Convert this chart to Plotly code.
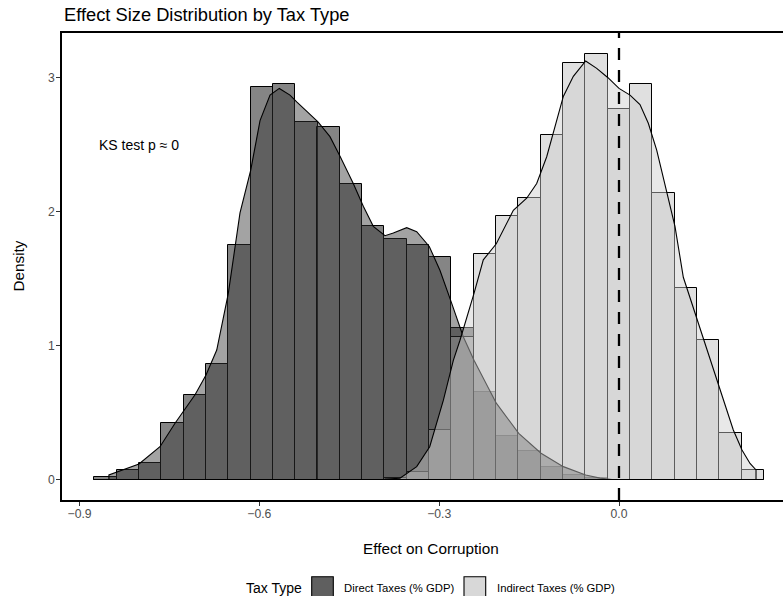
import plotly.graph_objects as go

# ---------------- data ----------------
bin_centers = [-0.8568, -0.8196, -0.7823, -0.7451, -0.7079, -0.6706, -0.6334, -0.5961,
               -0.5589, -0.5216, -0.4844, -0.4472, -0.4099, -0.3727, -0.3354, -0.2982,
               -0.2610, -0.2237, -0.1865, -0.1492, -0.1120, -0.0748, -0.0375, -0.0003,
               0.0370, 0.0742, 0.1114, 0.1487, 0.1859, 0.2232]
bin_width = 0.03724

direct_hist = [0.016, 0.071, 0.126, 0.42, 0.633, 0.865, 1.751, 2.93, 2.95, 2.672,
               2.634, 2.206, 1.895, 1.798, 1.751, 1.661, 1.133, 0.656, 0.327, 0.213,
               0.091, 0.03, 0.01, 0, 0, 0, 0, 0, 0, 0]
indirect_hist = [0, 0, 0, 0, 0, 0, 0, 0, 0, 0,
                 0, 0, 0, 0.01, 0.054, 0.37, 1.066, 1.681, 1.967, 2.10,
                 2.572, 3.112, 3.175, 2.764, 2.951, 2.137, 1.428, 1.044, 0.347, 0.071]

direct_kde_x = [-0.851, -0.8008, -0.7658, -0.7407, -0.7073, -0.6890, -0.6711, -0.6518,
                -0.6435, -0.6323, -0.6144, -0.5989, -0.5822, -0.5667, -0.5489, -0.5377,
                -0.5022, -0.4822, -0.4650, -0.4433, -0.4266, -0.4099, -0.3904, -0.3765,
                -0.3542, -0.3375, -0.3165, -0.2986, -0.2791, -0.2598, -0.2419, -0.2047,
                -0.1673, -0.1301, -0.0929, -0.0556, -0.0317, -0.0117]
direct_kde_y = [0.034, 0.116, 0.245, 0.42, 0.633, 0.78, 0.967, 1.39,
                1.64, 1.99, 2.31, 2.68, 2.87, 2.92, 2.87, 2.82,
                2.67, 2.56, 2.41, 2.21, 2.04, 1.89, 1.82, 1.84,
                1.88, 1.85, 1.74, 1.56, 1.315, 1.066, 0.89, 0.57,
                0.345, 0.196, 0.096, 0.034, 0.01, 0.003]

indirect_kde_x = [-0.3904, -0.3654, -0.3532, -0.3375, -0.3158, -0.2931, -0.2764, -0.2653,
                  -0.2419, -0.2264, -0.2047, -0.1763, -0.1540, -0.1373, -0.1206, -0.0929,
                  -0.0762, -0.0556, -0.0372, -0.0184, 0.0, 0.0184, 0.0350, 0.0489,
                  0.0629, 0.0796, 0.0934, 0.1073, 0.1306, 0.1680, 0.1907, 0.2052,
                  0.2186, 0.2286]
indirect_kde_y = [0.003, 0.009, 0.046, 0.096, 0.245, 0.59, 0.89, 1.04,
                  1.39, 1.64, 1.76, 2.01, 2.10, 2.21, 2.41, 2.86,
                  3.01, 3.125, 3.07, 3.0, 2.92, 2.87, 2.80, 2.66,
                  2.46, 2.16, 1.89, 1.51, 1.19, 0.69, 0.37, 0.22,
                  0.12, 0.071]

x_tickvals = [-0.9, -0.6, -0.3, 0.0]
x_ticktext = ["\u22120.9", "\u22120.6", "\u22120.3", "0.0"]
y_tickvals = [0, 1, 2, 3]
y_ticktext = ["0", "1", "2", "3"]

series_names = ["Direct Taxes (% GDP)", "Indirect Taxes (% GDP)"]
ks_label = "KS test p \u2248 0"
ks_pos = (-0.8, 2.5)

# ---------------- styling ----------------
FONT = "Liberation Sans, Arial, sans-serif"
W, H = 783, 596
L, R, T, B = 62, 0, 33, 96
PW, PH = W - L - R, H - T - B

hist_fill = ["rgba(51,51,51,0.6)", "rgba(204,204,204,0.6)"]
kde_fill = ["rgba(51,51,51,0.45)", "rgba(204,204,204,0.45)"]
key_fill = ["#5f5f5f", "#d8d8d8"]


def px_x(px):
    return (px - L) / PW


def px_y(py):
    return (H - B - py) / PH


fig = go.Figure()

for vals, fill, name in [(direct_hist, hist_fill[0], series_names[0]),
                         (indirect_hist, hist_fill[1], series_names[1])]:
    fig.add_trace(go.Bar(
        x=bin_centers, y=vals, width=bin_width, name=name,
        marker=dict(color=fill, line=dict(color="black", width=1.0)),
        showlegend=False, hoverinfo="skip"))

for xs, ys, fill, name in [(direct_kde_x, direct_kde_y, kde_fill[0], series_names[0]),
                           (indirect_kde_x, indirect_kde_y, kde_fill[1], series_names[1])]:
    px_ = [xs[0]] + list(xs) + [xs[-1], xs[0]]
    py_ = [0] + list(ys) + [0, 0]
    fig.add_trace(go.Scatter(
        x=px_, y=py_, mode="lines", fill="toself", fillcolor=fill,
        line=dict(color="black", width=1.1), name=name,
        showlegend=False, hoverinfo="skip"))

x_range = [(L - 619) / 599.4, (W - 619) / 599.4]
y_range = [(479.5 - (H - B)) / 133.93, (479.5 - T) / 133.93]

fig.update_layout(
    width=W, height=H,
    margin=dict(l=L, r=R, t=T, b=B, autoexpand=False),
    paper_bgcolor="white", plot_bgcolor="white",
    barmode="overlay", bargap=0,
    font=dict(family=FONT, color="black"),
    xaxis=dict(range=x_range, tickvals=x_tickvals, ticktext=x_ticktext,
               showgrid=False, zeroline=False, showline=True, linecolor="black",
               linewidth=1.8, mirror=True, ticks="outside", ticklen=4,
               tickcolor="#333333", tickwidth=1.1, ticklabelstandoff=-3,
               tickfont=dict(family=FONT, size=12.2, color="#4d4d4d")),
    yaxis=dict(range=y_range, tickvals=y_tickvals, ticktext=y_ticktext,
               showgrid=False, zeroline=False, showline=True, linecolor="black",
               linewidth=1.8, ticks="outside", ticklen=4,
               tickcolor="#333333", tickwidth=1.1, ticklabelstandoff=-1,
               tickfont=dict(family=FONT, size=12.2, color="#4d4d4d")),
)

# dashed reference line at zero
fig.add_shape(type="line", xref="x", yref="paper", x0=0, x1=0, y0=0, y1=1,
              line=dict(color="black", width=2.3, dash="12px,10px"), layer="above")

annotations = [
    dict(x=ks_pos[0], y=ks_pos[1], xref="x", yref="y", text=ks_label, showarrow=False,
         font=dict(family=FONT, size=14, color="black"), xanchor="center", yanchor="middle"),
    dict(x=px_x(62), y=px_y(15), xref="paper", yref="paper",
         text="Effect Size Distribution by Tax Type", showarrow=False,
         font=dict(family=FONT, size=18.3, color="black"), xanchor="left", yanchor="middle"),
    dict(x=px_x(431), y=px_y(548), xref="paper", yref="paper", text="Effect on Corruption",
         showarrow=False, font=dict(family=FONT, size=15.3, color="black"),
         xanchor="center", yanchor="middle"),
    dict(x=px_x(18), y=px_y(266.5), xref="paper", yref="paper", text="Density",
         showarrow=False, textangle=-90, font=dict(family=FONT, size=15.3, color="black"),
         xanchor="center", yanchor="middle"),
    dict(x=px_x(304), y=px_y(588), xref="paper", yref="paper", text="Tax Type",
         showarrow=False, font=dict(family=FONT, size=14, color="black"),
         xanchor="right", yanchor="middle"),
]

# manual legend keys
key_boxes = [(311.7, 333.3), (464.0, 485.7)]
label_x = [341.7, 495.0]
for (x0, x1), fill, lx, name in zip(key_boxes, key_fill, label_x, series_names):
    fig.add_shape(type="rect", xref="paper", yref="paper",
                  x0=px_x(x0), x1=px_x(x1), y0=px_y(598.3), y1=px_y(576.7),
                  fillcolor=fill, line=dict(color="black", width=1.1))
    annotations.append(dict(x=px_x(lx), y=px_y(588), xref="paper", yref="paper", text=name,
                            showarrow=False, font=dict(family=FONT, size=11.3, color="black"),
                            xanchor="left", yanchor="middle"))

fig.update_layout(annotations=annotations)

fig.write_html("out.html")
